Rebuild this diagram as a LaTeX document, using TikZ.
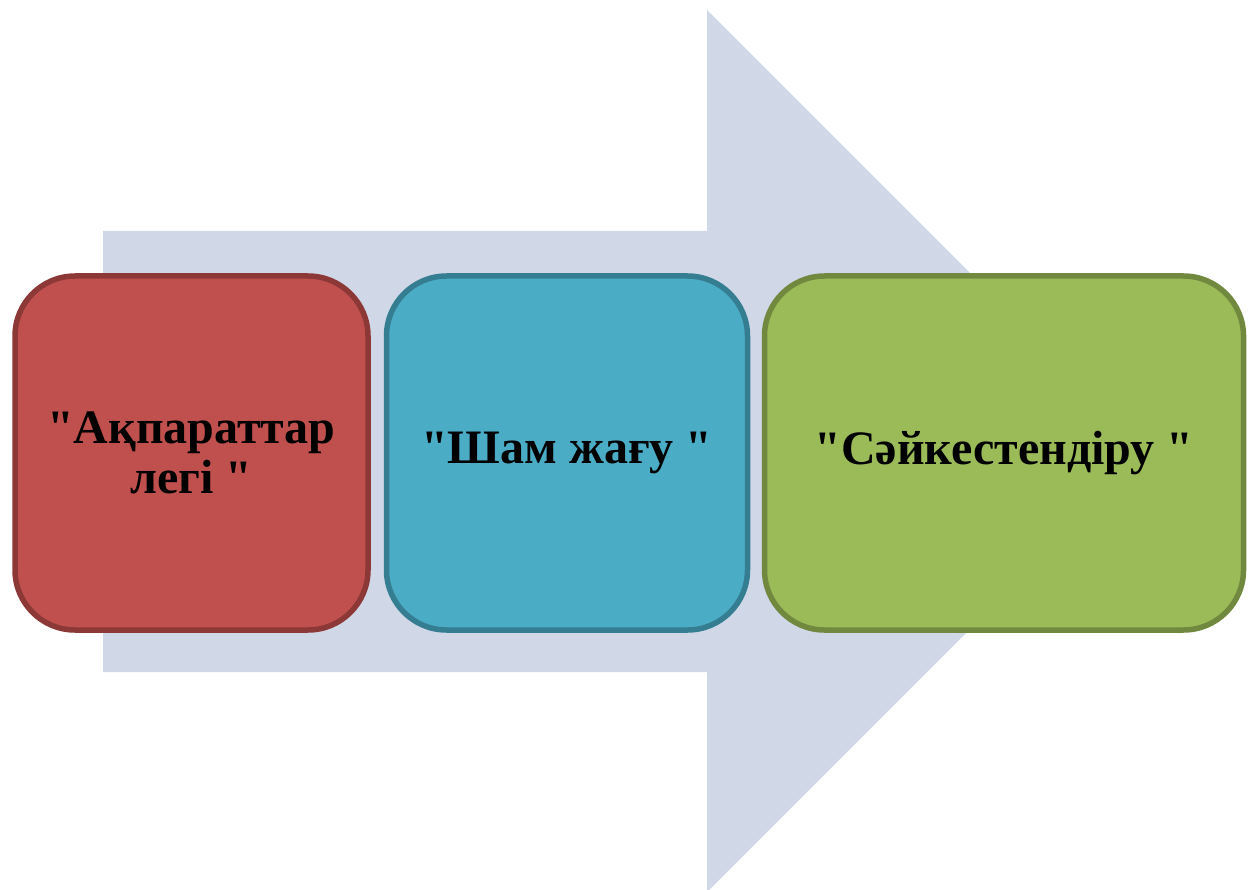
\documentclass[tikz,border=0pt]{standalone}
\usepackage{fontspec}
\setmainfont{Liberation Serif}[Ligatures=TeXOff]
\definecolor{arrowfill}{HTML}{D0D8E8}
\definecolor{redfill}{HTML}{C0504D}
\definecolor{reddraw}{HTML}{8C3836}
\definecolor{bluefill}{HTML}{4BACC6}
\definecolor{bluedraw}{HTML}{357D91}
\definecolor{greenfill}{HTML}{9BBB59}
\definecolor{greendraw}{HTML}{71893F}
\begin{document}
\begin{tikzpicture}[x=1pt,y=-1pt,
  stepbox/.style={rounded corners=60pt, line width=5.5pt, minimum height=354pt,
    inner sep=0pt, align=center, font=\fontsize{48}{50}\selectfont\bfseries}]
\useasboundingbox (0,0) rectangle (1252,890);
\fill[arrowfill] (103,231) -- (707,231) -- (707,10) -- (1148,451) -- (707,892) -- (707,672) -- (103,672) -- cycle;
\node[stepbox, fill=redfill, draw=reddraw, minimum width=353pt] (a) at (191.5,453) {"Ақпараттар\\легі "};
\node[stepbox, fill=bluefill, draw=bluedraw, minimum width=361pt] (b) at (567,453) {"Шам жағу "};
\node[stepbox, fill=greenfill, draw=greendraw, minimum width=479pt] (c) at (1004,453) {"Сәйкестендіру "};
\end{tikzpicture}
\end{document}
